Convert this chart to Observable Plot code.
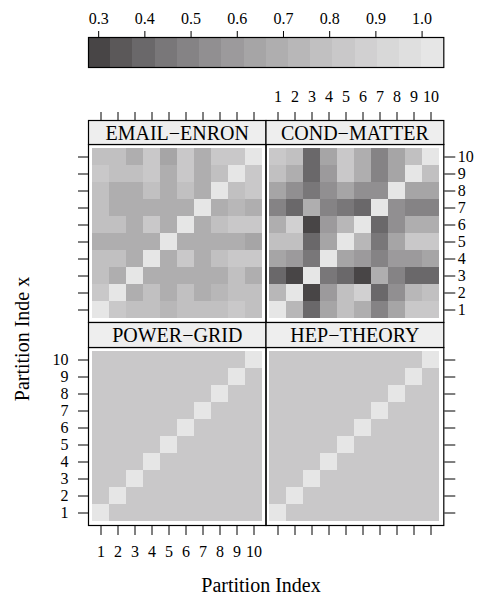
<!DOCTYPE html>
<html><head><meta charset="utf-8">
<script src="https://cdn.jsdelivr.net/npm/d3@7"></script>
<script src="https://cdn.jsdelivr.net/npm/@observablehq/plot@0.6"></script>
<style>
html,body{margin:0;padding:0;background:#fff;overflow:hidden;}
#root{position:relative;width:478px;height:597px;font-family:"Liberation Serif","Times New Roman",serif;color:#000;}
#root svg{position:absolute;left:0;top:0;}
.lab{position:absolute;font-size:20px;white-space:nowrap;line-height:1;}
</style></head><body><div id="root"></div>
<script>
// ---- data ----
const partitions = [1,2,3,4,5,6,7,8,9,10];
const panelNames = ["EMAIL\u2212ENRON","COND\u2212MATTER","POWER\u2212GRID","HEP\u2212THEORY"];
const keyBreaks = [0.278,0.326,0.374,0.422,0.470,0.518,0.566,0.615,0.663,0.711,0.759,0.807,0.855,0.903,0.951,0.999,1.047];
const keyTicks = [0.3,0.4,0.5,0.6,0.7,0.8,0.9,1.0];
const grays = ["#484546","#5b5859","#6a686a","#797779","#858385","#918f91","#9c9a9c","#a6a5a6","#afaeaf","#b8b7b8","#c1c0c1","#c9c8c9","#d1d0d1","#d8d8d8","#dfdfdf","#e6e6e6"];
// rows listed from y = 10 (top) down to y = 1; columns x = 1..10
const emailEnron = [
 [0.78,0.78,0.69,0.83,0.64,0.83,0.69,0.83,0.83,1.00],
 [0.83,0.78,0.78,0.83,0.69,0.83,0.69,0.78,1.00,0.83],
 [0.78,0.69,0.69,0.78,0.69,0.78,0.69,1.00,0.78,0.83],
 [0.78,0.69,0.69,0.69,0.69,0.69,1.00,0.69,0.73,0.69],
 [0.78,0.78,0.69,0.83,0.69,1.00,0.69,0.78,0.83,0.83],
 [0.69,0.69,0.69,0.69,1.00,0.69,0.69,0.69,0.69,0.64],
 [0.78,0.78,0.69,1.00,0.69,0.83,0.69,0.78,0.83,0.83],
 [0.78,0.69,1.00,0.69,0.69,0.69,0.69,0.69,0.78,0.69],
 [0.83,1.00,0.69,0.78,0.69,0.78,0.69,0.73,0.78,0.78],
 [1.00,0.83,0.78,0.78,0.73,0.78,0.78,0.78,0.83,0.78]
];
const condMatter = [
 [0.83,0.78,0.40,0.64,0.83,0.69,0.49,0.64,0.78,1.00],
 [0.78,0.69,0.40,0.59,0.83,0.69,0.49,0.64,1.00,0.78],
 [0.64,0.54,0.45,0.54,0.64,0.54,0.54,1.00,0.64,0.64],
 [0.49,0.40,0.69,0.49,0.45,0.40,1.00,0.54,0.49,0.49],
 [0.69,0.88,0.30,0.59,0.73,1.00,0.40,0.54,0.69,0.69],
 [0.78,0.78,0.40,0.64,1.00,0.73,0.45,0.64,0.83,0.83],
 [0.64,0.59,0.45,1.00,0.64,0.59,0.49,0.59,0.59,0.64],
 [0.40,0.30,1.00,0.45,0.40,0.30,0.69,0.49,0.40,0.40],
 [0.73,1.00,0.30,0.59,0.78,0.88,0.40,0.54,0.73,0.78],
 [1.00,0.73,0.40,0.64,0.78,0.69,0.49,0.64,0.83,0.83]
];
const powerGrid = [
 [0.83,0.83,0.83,0.83,0.83,0.83,0.83,0.83,0.83,1.00],
 [0.83,0.83,0.83,0.83,0.83,0.83,0.83,0.83,1.00,0.83],
 [0.83,0.83,0.83,0.83,0.83,0.83,0.83,1.00,0.83,0.83],
 [0.83,0.83,0.83,0.83,0.83,0.83,1.00,0.83,0.83,0.83],
 [0.83,0.83,0.83,0.83,0.83,1.00,0.83,0.83,0.83,0.83],
 [0.83,0.83,0.83,0.83,1.00,0.83,0.83,0.83,0.83,0.83],
 [0.83,0.83,0.83,1.00,0.83,0.83,0.83,0.83,0.83,0.83],
 [0.83,0.83,1.00,0.83,0.83,0.83,0.83,0.83,0.83,0.83],
 [0.83,1.00,0.83,0.83,0.83,0.83,0.83,0.83,0.83,0.83],
 [1.00,0.83,0.83,0.83,0.83,0.83,0.83,0.83,0.83,0.83]
];
const hepTheory = [
 [0.83,0.83,0.83,0.83,0.83,0.83,0.83,0.83,0.83,1.00],
 [0.83,0.83,0.83,0.83,0.83,0.83,0.83,0.83,1.00,0.83],
 [0.83,0.83,0.83,0.83,0.83,0.83,0.83,1.00,0.83,0.83],
 [0.83,0.83,0.83,0.83,0.83,0.83,1.00,0.83,0.83,0.83],
 [0.83,0.83,0.83,0.83,0.83,1.00,0.83,0.83,0.83,0.83],
 [0.83,0.83,0.83,0.83,1.00,0.83,0.83,0.83,0.83,0.83],
 [0.83,0.83,0.83,1.00,0.83,0.83,0.83,0.83,0.83,0.83],
 [0.83,0.83,1.00,0.83,0.83,0.83,0.83,0.83,0.83,0.83],
 [0.83,1.00,0.83,0.83,0.83,0.83,0.83,0.83,0.83,0.83],
 [1.00,0.83,0.83,0.83,0.83,0.83,0.83,0.83,0.83,0.83]
];
const xTitle = "Partition Index";
const yTitle = "Partition Inde x";

// ---- layout ----
const W = 478, H = 597;
const FONT = "Liberation Serif, Times New Roman, serif";
const TICKFONT = 16;
const colX = [[88, 265.5], [265.5, 443.3]];
const rowTop = [{strip: [120, 144], panel: [144, 322]}, {strip: [322, 347], panel: [347, 525]}];
const root = document.getElementById("root");
const colorOpts = {type: "threshold", domain: keyBreaks.slice(1, -1), range: grays};
const baseStyle = {background: "transparent", fontFamily: FONT, fontSize: TICKFONT + "px", color: "#000", overflow: "visible"};
const blank = () => "";

function frameBox(x0, x1, y0, y1) {
  return {width: W, height: H, marginLeft: x0, marginRight: W - x1, marginTop: y0, marginBottom: H - y1};
}

// colour key
const keyBins = grays.map((g, i) => ({lo: keyBreaks[i], hi: keyBreaks[i + 1], mid: (keyBreaks[i] + keyBreaks[i + 1]) / 2}));
root.appendChild(Plot.plot({
  ...frameBox(88, 443.3, 37, 67),
  style: baseStyle,
  x: {domain: [keyBreaks[0], keyBreaks[keyBreaks.length - 1]], axis: null},
  color: colorOpts,
  marks: [
    Plot.rect(keyBins, {x1: "lo", x2: "hi", fill: "mid", shapeRendering: "crispEdges"}),
    Plot.frame({stroke: "#000", strokeWidth: 1.2}),
    Plot.axisX(keyTicks, {anchor: "top", tickSize: 7, tickPadding: 7, tickFormat: d3.format(".1f"), label: null, fontSize: TICKFONT, fontFamily: FONT})
  ]
}));

const panels = [
  {name: panelNames[0], m: emailEnron, col: 0, row: 0, top: "ticks", left: "ticks"},
  {name: panelNames[1], m: condMatter, col: 1, row: 0, top: "labels", right: "labels"},
  {name: panelNames[2], m: powerGrid, col: 0, row: 1, bottom: "labels", left: "labels"},
  {name: panelNames[3], m: hepTheory, col: 1, row: 1, bottom: "ticks", right: "ticks"}
];

for (const p of panels) {
  const [x0, x1] = colX[p.col];
  const {strip, panel} = rowTop[p.row];
  const data = [];
  p.m.forEach((row, i) => row.forEach((v, j) => data.push({x: partitions[j], y: partitions[partitions.length - 1 - i], v})));
  const marks = [
    Plot.cell(data, {x: "x", y: "y", fill: "v", shapeRendering: "crispEdges"}),
    Plot.frame({stroke: "#000", strokeWidth: 1.2})
  ];
  const ax = {label: null, fontSize: TICKFONT, fontFamily: FONT};
  if (p.bottom) marks.push(Plot.axisX({...ax, anchor: "bottom", tickSize: 10, tickPadding: 10, tickFormat: p.bottom === "labels" ? d => d : blank}));
  if (p.left) marks.push(Plot.axisY({...ax, anchor: "left", tickSize: 10, tickPadding: 10, tickFormat: p.left === "labels" ? d => d : blank}));
  if (p.right) marks.push(Plot.axisY({...ax, anchor: "right", tickSize: 11, tickPadding: 3, tickFormat: p.right === "labels" ? d => d : blank}));
  root.appendChild(Plot.plot({
    ...frameBox(x0, x1, panel[0], panel[1]),
    style: baseStyle,
    x: {type: "band", domain: partitions, padding: 0, axis: null},
    y: {type: "band", domain: partitions.slice().reverse(), padding: 0, axis: null},
    color: colorOpts,
    marks
  }));
  // strip (with top axis above it)
  const smarks = [
    Plot.frame({fill: "#eeeeee", stroke: "#000", strokeWidth: 1.2}),
    Plot.text([p.name], {frameAnchor: "middle", text: d => d, fontSize: 20, fontFamily: FONT, fill: "#000", dy: 1})
  ];
  if (p.top) smarks.push(Plot.axisX({...ax, anchor: "top", tickSize: 9, tickPadding: 10, tickFormat: p.top === "labels" ? d => d : blank}));
  root.appendChild(Plot.plot({
    ...frameBox(x0, x1, strip[0], strip[1]),
    style: baseStyle,
    x: {type: "band", domain: partitions, padding: 0, axis: null},
    marks: smarks
  }));
}

const xl = document.createElement("div");
xl.className = "lab"; xl.textContent = xTitle;
xl.style.left = "261px"; xl.style.top = "585px"; xl.style.transform = "translate(-50%,-50%)";
root.appendChild(xl);
const yl = document.createElement("div");
yl.className = "lab"; yl.textContent = yTitle;
yl.style.left = "22px"; yl.style.top = "339px"; yl.style.transform = "translate(-50%,-50%) rotate(-90deg)";
root.appendChild(yl);
</script></body></html>
